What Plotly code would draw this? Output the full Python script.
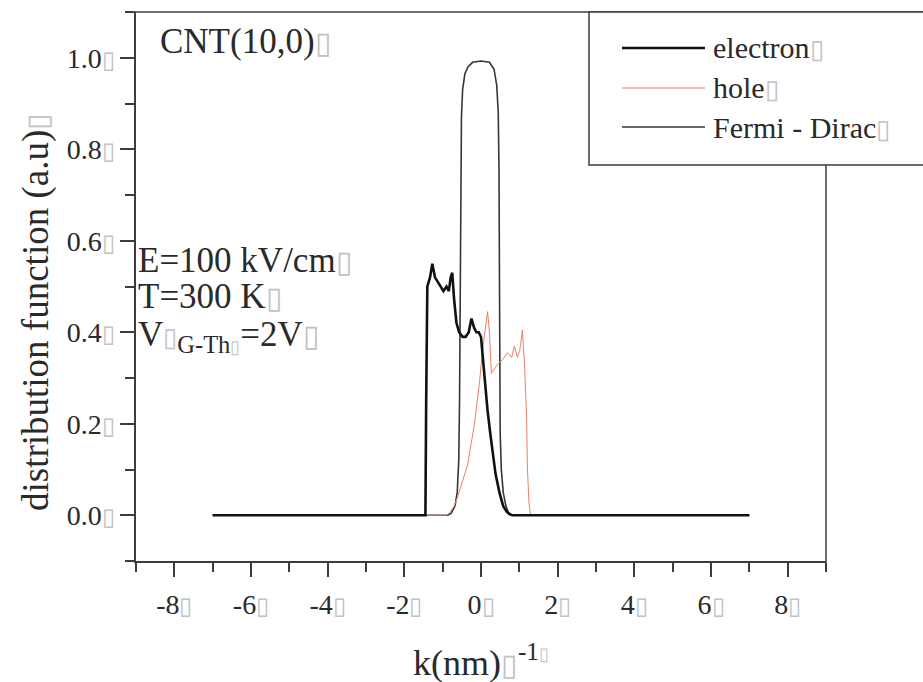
import plotly.graph_objects as go

# ---------------- data ----------------
k_electron = [-7.0, -1.45, -1.43, -1.40, -1.33, -1.27, -1.20, -1.12, -1.05, -0.98,
              -0.90, -0.84, -0.79, -0.75, -0.70, -0.64, -0.57, -0.48, -0.40, -0.32,
              -0.25, -0.18, -0.12, -0.06, 0.0, 0.05, 0.10, 0.17, 0.24, 0.30,
              0.38, 0.48, 0.58, 0.67, 0.75, 0.82, 7.0]
f_electron = [0.0, 0.0, 0.25, 0.50, 0.52, 0.55, 0.52, 0.51, 0.50, 0.49,
              0.50, 0.49, 0.52, 0.53, 0.47, 0.42, 0.40, 0.39, 0.39, 0.40,
              0.43, 0.41, 0.40, 0.40, 0.39, 0.34, 0.29, 0.23, 0.18, 0.14,
              0.09, 0.05, 0.02, 0.008, 0.002, 0.0, 0.0]

k_hole = [-7.0, -0.90, -0.82, -0.70, -0.61, -0.50, -0.35, -0.17, -0.04, 0.04,
          0.12, 0.17, 0.22, 0.27, 0.35, 0.43, 0.56, 0.69, 0.80, 0.87,
          0.95, 1.01, 1.06, 1.08, 1.14, 1.19, 1.21, 1.25, 1.29, 7.0]
f_hole = [0.0, 0.0, 0.005, 0.02, 0.04, 0.07, 0.11, 0.20, 0.29, 0.36,
          0.42, 0.445, 0.40, 0.31, 0.32, 0.33, 0.34, 0.355, 0.345, 0.37,
          0.345, 0.36, 0.39, 0.405, 0.32, 0.215, 0.105, 0.03, 0.0, 0.0]

k_fd = [-7.0, -0.87, -0.78, -0.68, -0.62, -0.58, -0.56, -0.55, -0.54, -0.53,
        -0.51, -0.48, -0.42, -0.34, -0.22, 0.0, 0.22, 0.34, 0.41, 0.45,
        0.47, 0.48, 0.49, 0.50, 0.53, 0.58, 0.65, 0.72, 0.80, 7.0]
f_fd = [0.0, 0.0, 0.004, 0.02, 0.05, 0.12, 0.25, 0.45, 0.65, 0.78,
        0.87, 0.93, 0.965, 0.98, 0.99, 0.993, 0.99, 0.975, 0.94, 0.88,
        0.75, 0.55, 0.35, 0.18, 0.10, 0.05, 0.02, 0.005, 0.0, 0.0]

x_tick_vals = [-8, -6, -4, -2, 0, 2, 4, 6, 8]
x_tick_text = ["-8", "-6", "-4", "-2", "0", "2", "4", "6", "8"]
y_tick_vals = [0.0, 0.2, 0.4, 0.6, 0.8, 1.0]
y_tick_text = ["0.0", "0.2", "0.4", "0.6", "0.8", "1.0"]

series_names = ["electron", "hole", "Fermi - Dirac"]
series_colors = ["#111111", "#ec7f64", "#35353f"]
series_widths = [2.6, 1.0, 1.6]

# ---------------- styling helpers ----------------
FONT = "Liberation Serif, Times New Roman, serif"
TXT = "#2a2a2a"
AX = "#3c3c3c"


def tofu(size):
    return f"<span style='color:#c2c2c2;font-size:{size}px'>▯</span>"


fig = go.Figure()
fig.add_trace(go.Scatter(x=k_fd, y=f_fd, mode="lines", name=series_names[2],
                         line=dict(color=series_colors[2], width=series_widths[2]),
                         showlegend=False))
fig.add_trace(go.Scatter(x=k_hole, y=f_hole, mode="lines", name=series_names[1],
                         line=dict(color=series_colors[1], width=series_widths[1]),
                         showlegend=False))
fig.add_trace(go.Scatter(x=k_electron, y=f_electron, mode="lines", name=series_names[0],
                         line=dict(color=series_colors[0], width=series_widths[0]),
                         showlegend=False))

W, H = 923, 682
L, R, T, B = 136, 0, 12, 121
AXIS_RIGHT = 826
pw, ph = W - L - R, H - T - B


def px(x):
    return (x - L) / pw


def py(y):
    return (H - B - y) / ph


axis_common = dict(showline=True, linecolor=AX, linewidth=1.5, mirror=False,
                   ticks="outside", tickcolor=AX, tickwidth=1.5, ticklen=14,
                   showgrid=False, zeroline=False,
                   tickfont=dict(family=FONT, size=28, color=TXT))

fig.update_xaxes(range=[-9, 9], domain=[0, px(AXIS_RIGHT)], tickvals=x_tick_vals,
                 ticktext=[t + tofu(24) for t in x_tick_text],
                 minor=dict(dtick=1, tick0=0, ticks="outside", ticklen=9,
                            tickcolor=AX, tickwidth=1.5),
                 ticklabelstandoff=4, **axis_common)
fig.update_yaxes(range=[-0.1, 1.1], tickvals=y_tick_vals,
                 ticktext=[t + tofu(24) for t in y_tick_text],
                 minor=dict(dtick=0.1, tick0=0, ticks="outside", ticklen=9,
                            tickcolor=AX, tickwidth=1.5),
                 ticklabelstandoff=0, **axis_common)

annotations = []
# axis titles
annotations.append(dict(xref="paper", yref="paper", x=px(481), y=py(660),
                        text="k(nm)" + tofu(30) + "<sup>-1" + tofu(18) + "</sup>",
                        showarrow=False, xanchor="center", yanchor="middle",
                        font=dict(family=FONT, size=36, color=TXT)))
annotations.append(dict(xref="paper", yref="paper", x=px(36), y=py(312),
                        text="distribution function (a.u)" + tofu(30),
                        textangle=-90, showarrow=False, xanchor="center", yanchor="middle",
                        font=dict(family=FONT, size=37, color=TXT)))
# in-plot labels
annotations.append(dict(xref="paper", yref="paper", x=px(158), y=py(42),
                        text="CNT(10,0)" + tofu(30), showarrow=False,
                        xanchor="left", yanchor="middle",
                        font=dict(family=FONT, size=35, color=TXT)))
annotations.append(dict(xref="paper", yref="paper", x=px(136), y=py(260),
                        text="E=100 kV/cm" + tofu(30), showarrow=False,
                        xanchor="left", yanchor="middle",
                        font=dict(family=FONT, size=35, color=TXT)))
annotations.append(dict(xref="paper", yref="paper", x=px(136), y=py(296),
                        text="T=300 K" + tofu(30), showarrow=False,
                        xanchor="left", yanchor="middle",
                        font=dict(family=FONT, size=35, color=TXT)))
annotations.append(dict(xref="paper", yref="paper", x=px(136), y=py(336),
                        text="V" + tofu(26) + "<sub>G-Th" + tofu(18) + "</sub>=2V" + tofu(30),
                        showarrow=False, xanchor="left", yanchor="middle",
                        font=dict(family=FONT, size=35, color=TXT)))

shapes = []
# frame: top line and right line (right line stops under the legend box)
shapes.append(dict(type="line", xref="paper", yref="paper",
                   x0=px(128), x1=1.0, y0=py(12), y1=py(12),
                   line=dict(color=AX, width=1.5), layer="above"))
shapes.append(dict(type="line", xref="paper", yref="paper",
                   x0=px(AXIS_RIGHT), x1=px(AXIS_RIGHT), y0=py(567), y1=py(165),
                   line=dict(color=AX, width=1.5), layer="above"))
# manual legend box (runs off the right edge like the reference)
shapes.append(dict(type="rect", xref="paper", yref="paper",
                   x0=px(589), x1=1.02, y0=py(165), y1=py(12),
                   line=dict(color=AX, width=1.5), fillcolor="white", layer="above"))
legend_rows = [48, 88, 127]
for name, color, width, yrow in zip(series_names, series_colors, series_widths, legend_rows):
    shapes.append(dict(type="line", xref="paper", yref="paper",
                       x0=px(622), x1=px(705), y0=py(yrow), y1=py(yrow),
                       line=dict(color=color, width=width), layer="above"))
    annotations.append(dict(xref="paper", yref="paper", x=px(711), y=py(yrow),
                            text=name + tofu(26), showarrow=False,
                            xanchor="left", yanchor="middle",
                            font=dict(family=FONT, size=30, color=TXT)))

fig.update_layout(width=W, height=H, margin=dict(l=L, r=R, t=T, b=B, pad=0),
                  paper_bgcolor="white", plot_bgcolor="white",
                  showlegend=False, shapes=shapes, annotations=annotations,
                  font=dict(family=FONT, color=TXT))

fig.write_html("out.html")
